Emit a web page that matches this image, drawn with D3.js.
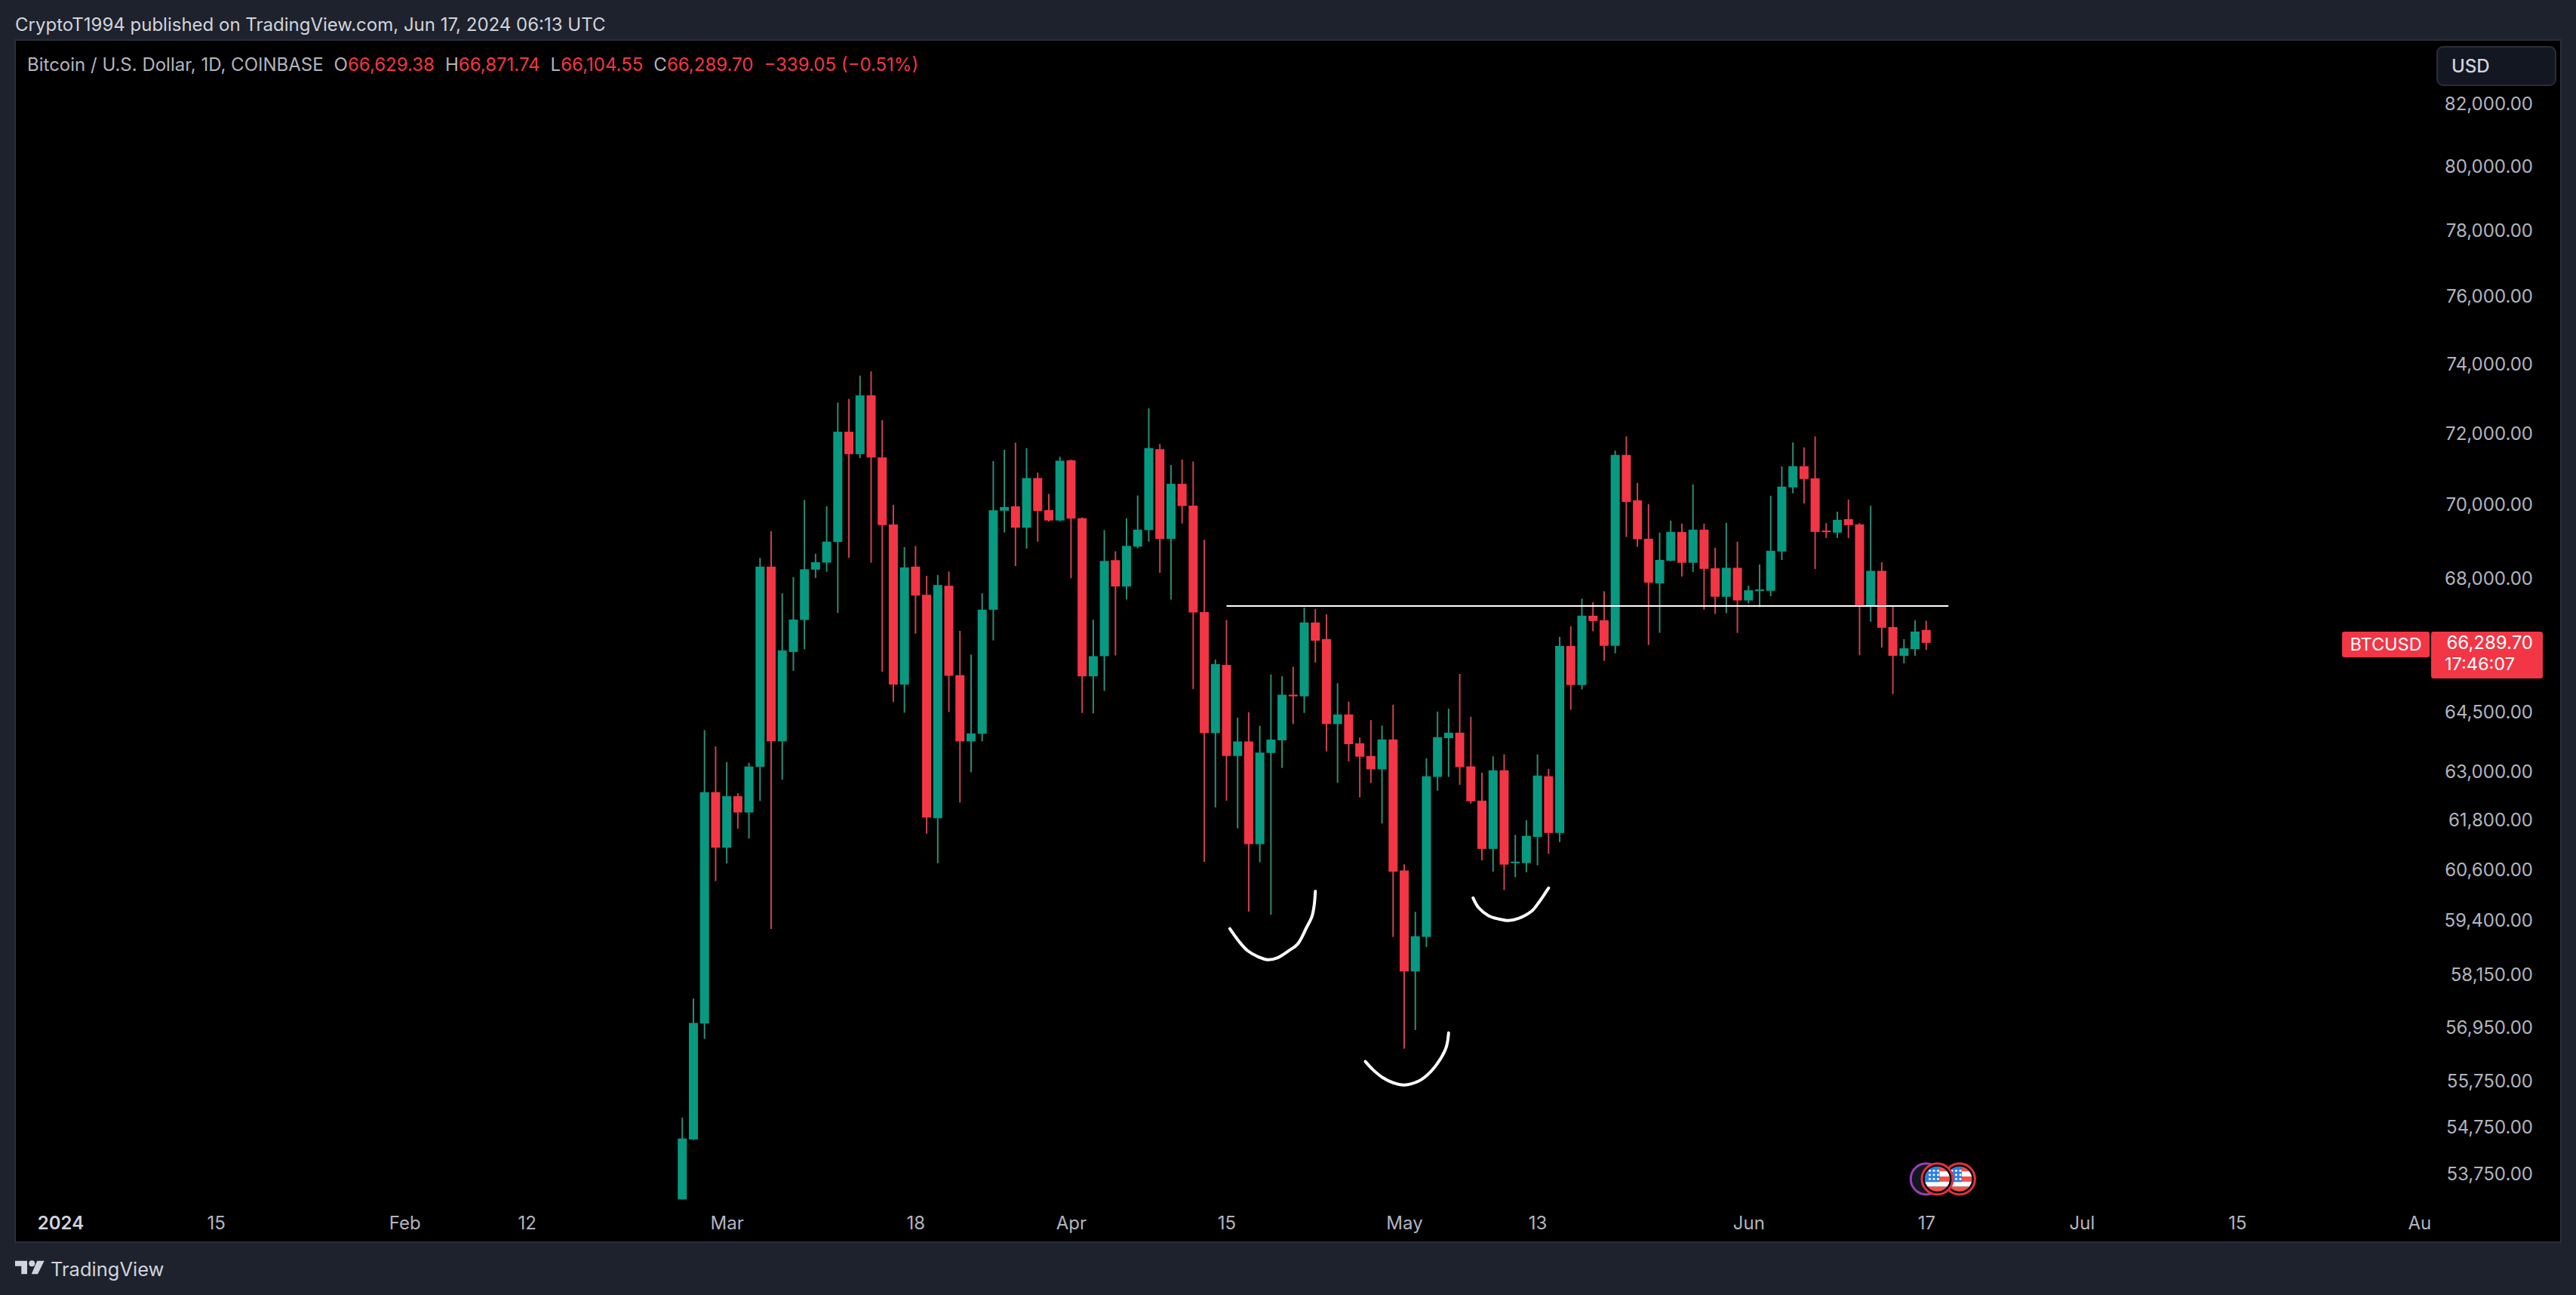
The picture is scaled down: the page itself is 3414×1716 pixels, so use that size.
<!DOCTYPE html>
<html>
<head>
<meta charset="utf-8">
<title>BTCUSD</title>
<script src="https://cdn.jsdelivr.net/npm/d3@7"></script>
<style>
html, body { margin: 0; padding: 0; background: #1e222d; overflow: hidden; }
svg { display: block; }
text { font-family: Inter, "Noto Sans", sans-serif; }
</style>
</head>
<body>
<svg width="3414" height="1716"></svg>
<script>
// first candle is day 56 of 2024 (Feb 26), one candle per day up to Jun 17
var firstDay = 56;
var opens = [53209,54485,57037,62494,61138,62394,61995,63123,68315,63760,66052,66892,68235,68424,68984,72054,71418,73098,71325,69462,65206,68315,67560,61853,67801,65450,63760,63951,67163,69841,
    69961,69374,70747,69856,69572,71245,69635,65419,65942,68490,67781,68857,69308,71558,69067,70586,69981,67100,63968,65715,63393,63758,61224,63469,63786,64945,64905,66825,66389,64197,
    64441,63711,63393,63059,63808,60590,58222,59021,62871,63841,63979,63133,62285,61109,63035,60765,60769,61400,62888,61494,66207,65195,67004,66884,66213,71397,70127,69072,67866,68476,
    69258,68420,69320,68270,67508,68284,67408,67675,67667,68724,70487,71080,70741,69293,69238,69609,69465,67263,68202,66705,65950,66127,66629.38];
var highs = [54956,57602,64041,63632,63241,62470,63223,68554,69283,67598,68033,70136,68663,69963,72887,72993,73667,73793,72383,70002,68844,68873,68070,68090,68183,66604,65986,67598,71223,71541,
    71742,71590,70900,70305,71342,71266,69656,66896,69308,68731,69635,70262,72722,71708,71115,71266,71213,69046,65853,66888,64362,64500,64154,65468,65419,65665,67220,67181,67040,65241,
    64767,63857,64298,64158,64691,60738,59608,63335,64515,64590,65481,64381,62977,63384,63433,61447,61802,63433,63073,66442,66725,67456,67363,67655,71518,71920,70614,70021,69238,69567,
    69485,70571,69485,68825,69506,68990,67801,68372,70254,71073,71750,71609,71920,69499,69815,70148,69499,69979,68434,67283,66388,66884,66871.74];
var lows = [53209,54472,56692,60337,60760,61598,61360,62276,59204,62804,65562,66120,68012,68175,67076,68554,71306,68424,65535,64757,64485,66528,61475,60760,64503,62238,62986,63760,66352,69244,
    68330,68805,68993,69541,69551,68004,64480,64470,65044,65961,67434,68815,68993,68150,67434,69487,65092,60798,62118,62282,61604,59613,60787,59543,63095,64197,64480,65775,63508,62727,
    63258,62366,62717,61724,59021,56474,56887,58789,62530,62871,62675,62212,60833,60562,60124,60431,60549,60714,60991,61275,64561,65084,66592,65820,66014,69120,68852,66233,66552,68461,
    68047,68173,67169,67050,67070,66552,67329,67229,67522,68496,70324,70042,68249,69094,69094,69094,65969,66845,66167,64962,65756,65950,66104.55];
var closes = [54504,57050,62494,61138,62394,61995,63130,68315,63760,66092,66902,68245,68434,68993,72054,71418,73098,71325,69444,65206,68295,67540,61871,67821,65433,63760,63960,67163,69852,69942,
    69374,70747,69835,69572,71234,69625,65419,65942,68467,67781,68877,69320,71590,69067,70586,69971,67090,63968,65735,63393,63758,61224,63478,63805,64945,64905,66825,66347,64197,64441,
    63690,63376,63059,63808,60562,58222,59037,62888,63865,63979,63115,62269,61109,63035,60731,60802,61423,62904,61494,66209,65195,67004,66865,66213,71397,70083,69059,67886,68496,69258,
    68420,69320,68255,67508,68284,67408,67681,67701,68744,70508,71080,70720,69258,69265,69588,69444,67263,68202,66685,65950,66147,66586,66289.70];

var priceTicks = [82000,80000,78000,76000,74000,72000,70000,68000,64500,63000,61800,60600,59400,58150,56950,55750,54750,53750];
var dayTicks = [0,14,31,42,60,77,91,105,121,133,152,168,182,196,212.4];
var dayLabels = ["2024","15","Feb","12","Mar","18","Apr","15","May","13","Jun","17","Jul","15","Au"];

// horizontal level the author drew, [day, price] ends
var levelDays = [105,170];
var levelPrice = 67263;

// the three hand drawn curves, [day, price]
var scribbles = [
    [[105.3,59211],[106.1,58925],[106.9,58700],[107.8,58565],[108.7,58492],[109.6,58538],[110.6,58700],[111.4,58853],[112.2,59237],[112.7,59506],[112.9,59775],[113.0,60095]],
    [[117.5,56187],[118.2,56003],[119.1,55825],[120.0,55718],[121.0,55669],[122.3,55754],[123.4,55967],[124.3,56260],[124.8,56518],[125.0,56827]],
    [[127.2,59937],[127.7,59707],[128.6,59517],[129.5,59441],[130.4,59403],[131.3,59455],[132.5,59631],[133.2,59859],[133.6,60013],[134.0,60171]]
];

// economic event markers on the bottom of the pane
var eventDays = [171,169];
var lastPrice = 66289.70;

var up = "#089981", down = "#f23645";
var upWick = "#2e8b74", downWick = "#c9424f";
var textColor = "#b2b5be", lightText = "#d1d4dc";

var candles = d3.range(opens.length).map(function (i) {
    return {day: firstDay + i, o: opens[i], h: highs[i], l: lows[i], c: closes[i]};
});

var svg = d3.select("svg");

var pane = {left: 21, top: 54, right: 3393, bottom: 1645, plotBottom: 1590};

svg.append("rect").attr("width", 3414).attr("height", 1716).attr("fill", "#1e222d");
svg.append("rect")
    .attr("x", pane.left - 1).attr("y", pane.top - 1)
    .attr("width", pane.right - pane.left + 2).attr("height", pane.bottom - pane.top + 2)
    .attr("fill", "#000").attr("stroke", "#2a2e39").attr("stroke-width", 2);

var x = d3.scaleLinear().domain([0, 168]).range([80, 2552.8]);
var y = d3.scaleLog().domain([53750, 82000]).range([1555.4, 138.2]);

svg.append("clipPath").attr("id", "plot").append("rect")
    .attr("x", pane.left).attr("y", pane.top)
    .attr("width", 3200).attr("height", pane.plotBottom - pane.top);

var g = svg.append("g").attr("clip-path", "url(#plot)");

var candle = g.selectAll(".candle").data(candles).enter().append("g").attr("class", "candle");

candle.append("line")
    .attr("x1", function (d) { return x(d.day); })
    .attr("x2", function (d) { return x(d.day); })
    .attr("y1", function (d) { return y(d.h); })
    .attr("y2", function (d) { return y(d.l); })
    .attr("stroke", function (d) { return d.c >= d.o ? upWick : downWick; })
    .attr("stroke-width", 2);

candle.append("rect")
    .attr("x", function (d) { return x(d.day) - 6; })
    .attr("width", 12)
    .attr("y", function (d) { return y(Math.max(d.o, d.c)); })
    .attr("height", function (d) { return Math.max(2, Math.abs(y(d.o) - y(d.c))); })
    .attr("fill", function (d) { return d.c >= d.o ? up : down; });

// level line
g.append("line")
    .attr("x1", x(levelDays[0])).attr("x2", x(levelDays[1]))
    .attr("y1", y(levelPrice)).attr("y2", y(levelPrice))
    .attr("stroke", "#fff").attr("stroke-width", 2);

var scribble = d3.line()
    .x(function (d) { return x(d[0]); })
    .y(function (d) { return y(d[1]); })
    .curve(d3.curveCatmullRom);

g.selectAll(".scribble").data(scribbles).enter().append("path")
    .attr("class", "scribble")
    .attr("d", scribble)
    .attr("fill", "none").attr("stroke", "#fff")
    .attr("stroke-width", 4).attr("stroke-linecap", "round");

// price axis
var yAxis = svg.append("g")
    .call(d3.axisRight(y).tickValues(priceTicks).tickFormat(d3.format(",.2f")).tickSize(0));
yAxis.select(".domain").remove();
yAxis.selectAll("text")
    .attr("x", 3357).attr("text-anchor", "end")
    .style("font-family", "Inter").style("font-size", "24px").attr("fill", textColor);

// time axis
var xAxis = svg.append("g")
    .attr("transform", "translate(0,1620)")
    .call(d3.axisBottom(x).tickValues(dayTicks).tickSize(0).tickFormat(function (d, i) { return dayLabels[i]; }));
xAxis.select(".domain").remove();
xAxis.selectAll("text")
    .attr("y", 0).attr("dy", "0.36em")
    .style("font-family", "Inter").style("font-size", "24px").attr("fill", textColor);
xAxis.selectAll("text").filter(function (d, i) { return i === 0; })
    .style("font-weight", 600).attr("fill", lightText);

// event markers
var flagY = 1562.3;
var stripes = ["#f2504b", "#fff", "#f2504b", "#fff", "#f2504b"];

svg.append("circle")
    .attr("cx", x(168)).attr("cy", flagY).attr("r", 20.5)
    .attr("fill", "#131722").attr("stroke", "#9c3fb5").attr("stroke-width", 3);

eventDays.forEach(function (day, k) {
    var cx = x(day);
    var flag = svg.append("g");
    flag.append("circle").attr("cx", cx).attr("cy", flagY).attr("r", 20.5)
        .attr("fill", "#0a0a0f").attr("stroke", "#e5303f").attr("stroke-width", 3);
    flag.append("clipPath").attr("id", "flag" + k).append("circle")
        .attr("cx", cx).attr("cy", flagY).attr("r", 16.5);
    var inner = flag.append("g").attr("clip-path", "url(#flag" + k + ")");
    stripes.forEach(function (c, i) {
        inner.append("rect")
            .attr("x", cx - 17).attr("y", flagY - 17 + i * 6.8)
            .attr("width", 34).attr("height", 6.9).attr("fill", c);
    });
    inner.append("rect")
        .attr("x", cx - 17).attr("y", flagY - 17)
        .attr("width", 20).attr("height", 21).attr("fill", "#2b82e6");
    d3.range(3).forEach(function (r) {
        d3.range(3).forEach(function (c) {
            inner.append("circle")
                .attr("cx", cx - 10 + c * 5.5).attr("cy", flagY - 11 + r * 5.5)
                .attr("r", 1.5).attr("fill", "#fff");
        });
    });
});

// header
svg.append("text")
    .attr("x", 20).attr("y", 32).attr("dy", "0.36em")
    .attr("fill", lightText).style("font-size", "24px")
    .text("CryptoT1994 published on TradingView.com, Jun 17, 2024 06:13 UTC");

var legend = svg.append("text")
    .attr("x", 36).attr("y", 85).attr("dy", "0.36em")
    .style("font-size", "24px").attr("xml:space", "preserve");
var legendParts = [
    ["Bitcoin / U.S. Dollar, 1D, COINBASE", textColor, 0],
    ["O", textColor, 14], ["66,629.38", down, 0],
    ["H", textColor, 14], ["66,871.74", down, 0],
    ["L", textColor, 14], ["66,104.55", down, 0],
    ["C", textColor, 14], ["66,289.70", down, 0],
    ["\u2212339.05 (\u22120.51%)", down, 14]
];
legendParts.forEach(function (p) {
    legend.append("tspan").attr("fill", p[1]).attr("dx", p[2]).text(p[0]);
});

// currency button
svg.append("rect")
    .attr("x", 3230).attr("y", 62).attr("width", 157).attr("height", 51).attr("rx", 8)
    .attr("fill", "#131722").attr("stroke", "#2a2e39").attr("stroke-width", 2);
svg.append("text")
    .attr("x", 3249).attr("y", 87).attr("dy", "0.36em")
    .attr("fill", lightText).style("font-size", "24px").style("font-weight", 500)
    .text("USD");

// last price labels
svg.append("rect")
    .attr("x", 3104).attr("y", 837).attr("width", 116).attr("height", 34).attr("rx", 3).attr("fill", down);
svg.append("text")
    .attr("x", 3162).attr("y", 854).attr("dy", "0.36em").attr("text-anchor", "middle")
    .attr("fill", "#fff").style("font-size", "23.5px").text("BTCUSD");
svg.append("rect")
    .attr("x", 3222).attr("y", 837).attr("width", 148).attr("height", 62).attr("rx", 3).attr("fill", down);
svg.append("text")
    .attr("x", 3357).attr("y", y(lastPrice)).attr("dy", "0.36em").attr("text-anchor", "end")
    .attr("fill", "#fff").style("font-size", "24px").text(d3.format(",.2f")(lastPrice));
svg.append("text")
    .attr("x", 3240).attr("y", 880).attr("dy", "0.36em")
    .attr("fill", "#fff").style("font-size", "23.5px").text("17:46:07");

// logo
var logo = svg.append("g").attr("fill", "#d1d4dc");
logo.append("path").attr("d", "M20 1670.7H36V1688.3H28.3V1677.7H20Z");
logo.append("circle").attr("cx", 42.3).attr("cy", 1674.3).attr("r", 4);
logo.append("path").attr("d", "M49.3 1670.7H58.7L50 1688.3H41.7Z");
svg.append("text")
    .attr("x", 67).attr("y", 1682).attr("dy", "0.36em")
    .attr("fill", "#d1d4dc").style("font-size", "25.5px").text("TradingView");
</script>
</body>
</html>
